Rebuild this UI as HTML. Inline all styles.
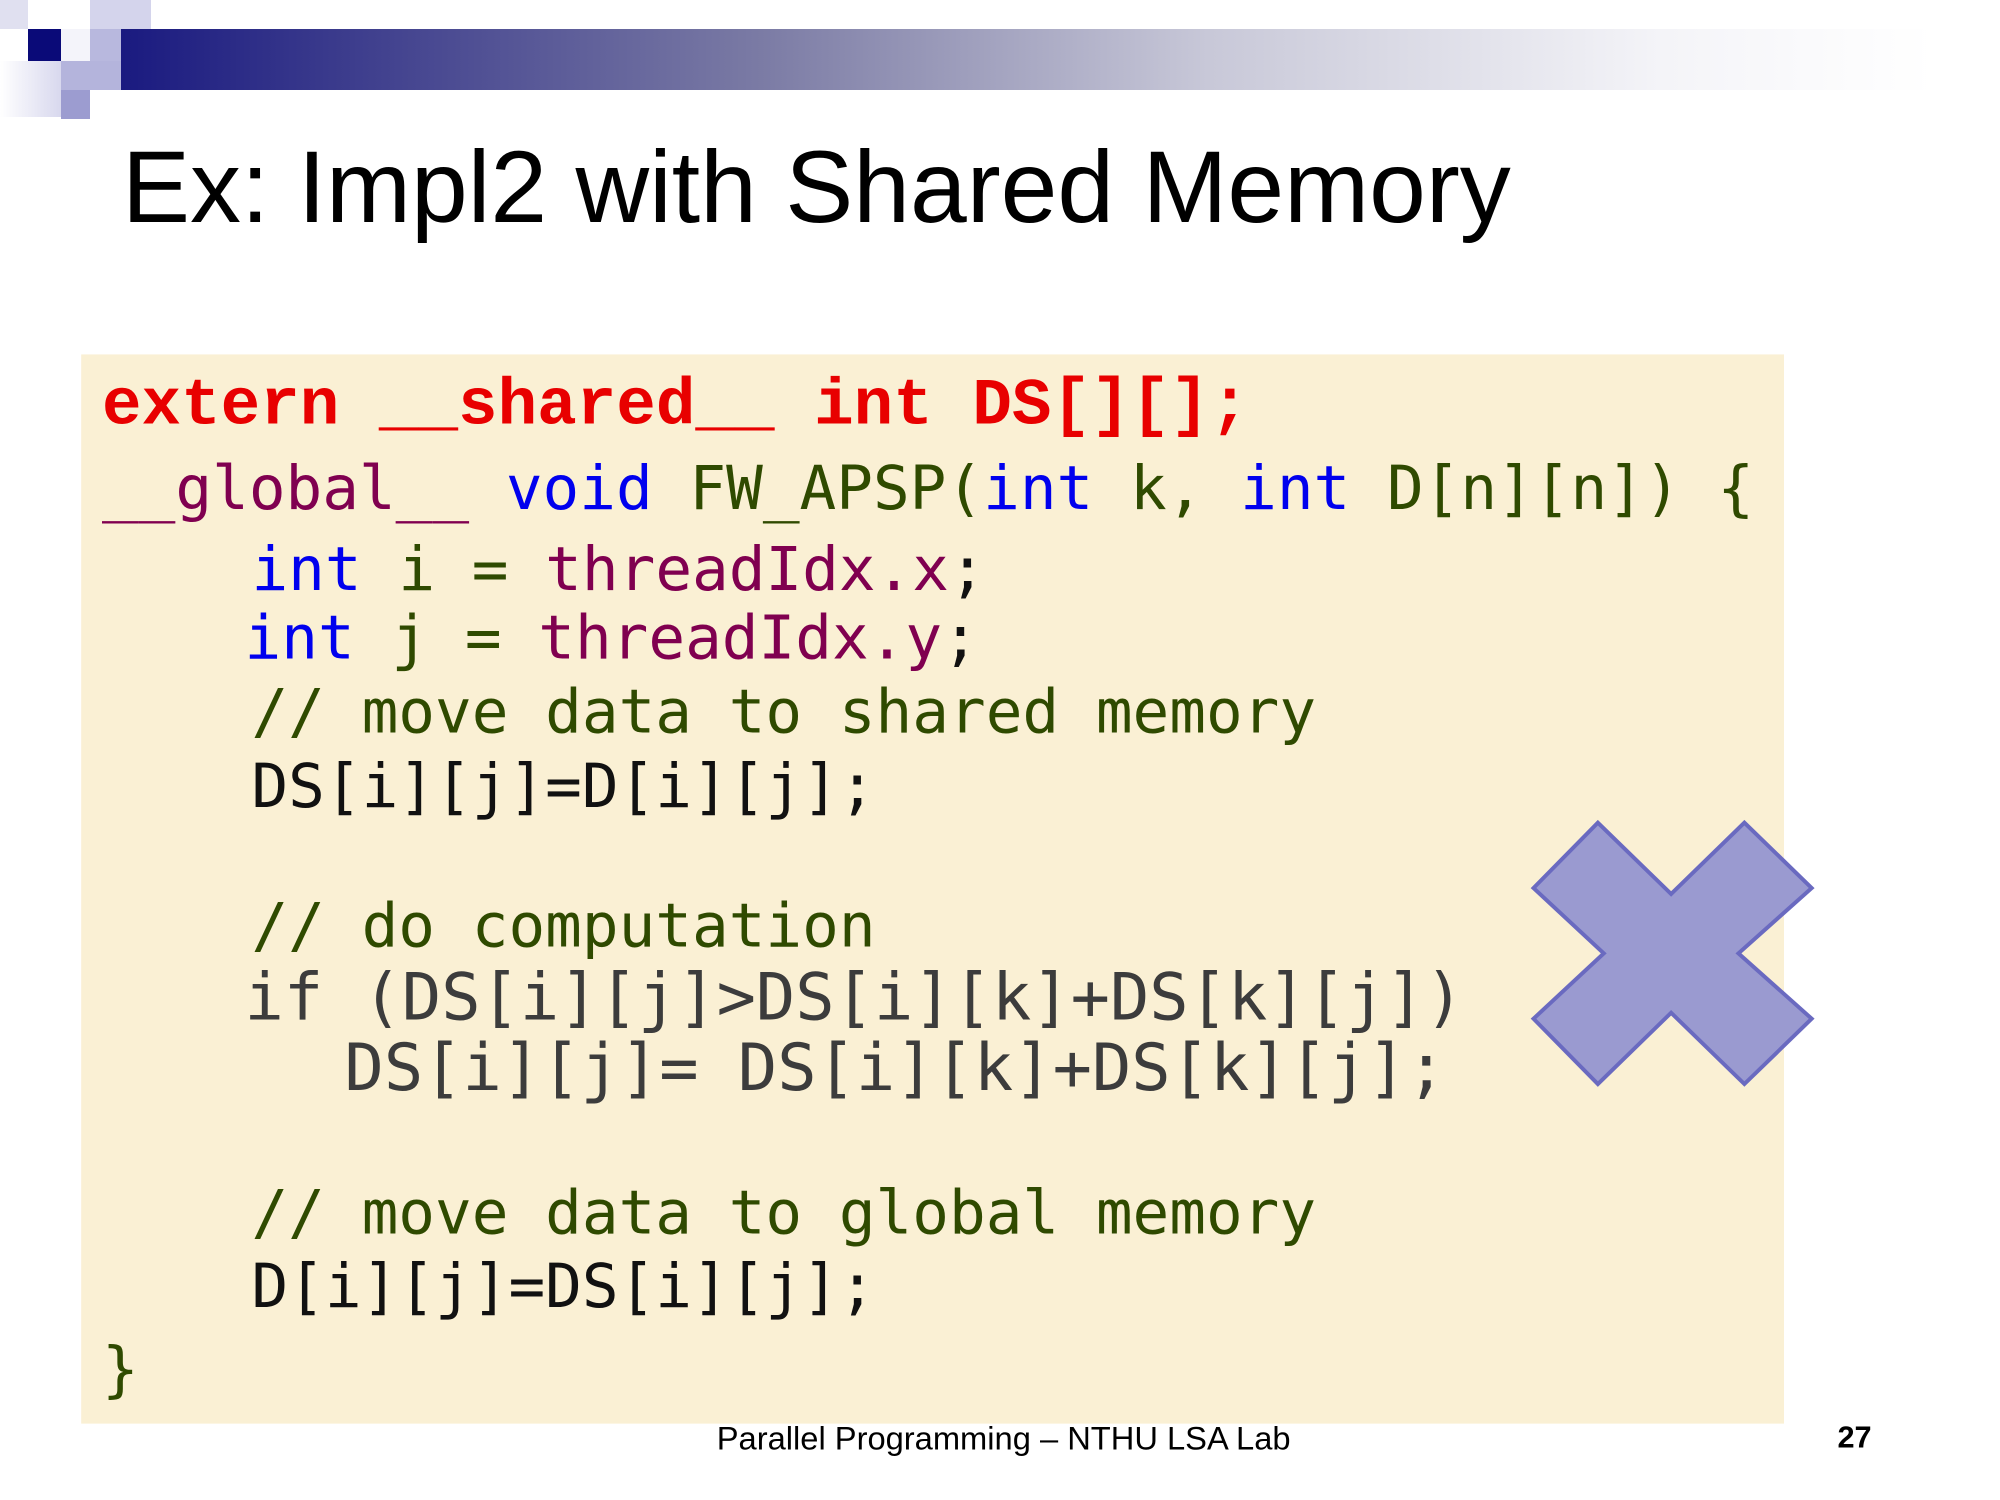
<!DOCTYPE html>
<html><head><meta charset="utf-8"><style>
body{margin:0;width:2000px;height:1500px;background:#fff;position:relative;overflow:hidden}
.a{position:absolute;white-space:pre;line-height:1}
.m{font-family:"DejaVu Sans Mono",monospace;font-size:61.6px}
.p{color:#800050}.b{color:#0000ee}.g{color:#2f4a00}.k{color:#111}
#w{position:absolute;left:0;top:0;width:2000px;height:1500px;transform:scale(0.99);transform-origin:0 0}
</style></head><body>
<div class="a" style="left:0;top:0;width:28px;height:29px;background:#e0e0f0"></div>
<div class="a" style="left:90px;top:0;width:61px;height:29px;background:#d4d4ec"></div>
<div class="a" style="left:28px;top:29px;width:33px;height:32px;background:#0a0a78"></div>
<div class="a" style="left:61px;top:29px;width:29px;height:32px;background:#f4f4fa"></div>
<div class="a" style="left:90px;top:29px;width:31px;height:32px;background:#b8b8de"></div>
<div class="a" style="left:0;top:61px;width:61px;height:56px;background:linear-gradient(90deg,#fff,#d8d8ee)"></div>
<div class="a" style="left:61px;top:61px;width:60px;height:29px;background:#b4b4dc"></div>
<div class="a" style="left:61px;top:90px;width:29px;height:29px;background:#9c9cd0"></div>
<div class="a" style="left:121px;top:29px;width:1812px;height:61px;background:linear-gradient(90deg,#1a1a80 0%,#7a7aa4 35%,#c8c8d8 60%,#f4f4f8 85%,#fff 100%)"></div>
<div class="a" style="left:122px;top:136px;font-family:'Liberation Sans',sans-serif;font-size:102px;color:#000">Ex: Impl2 with Shared Memory</div>
<div id="w">
<div class="a" style="left:82px;top:358px;width:1720px;height:1080px;background:#faf0d4"></div>
<div class="a" style="left:103px;top:378px;font-family:'Liberation Mono',monospace;font-weight:bold;font-size:66.6px;color:#e80000">extern __shared__ int DS[][];</div>
<div class="a m" style="left:103px;top:463px"><span class="p">__global__</span> <span class="b">void</span> <span class="g">FW_APSP(</span><span class="b">int</span> <span class="g">k,</span> <span class="b">int</span> <span class="g">D[n][n]) {</span></div>
<div class="a m" style="left:254px;top:545px"><span class="b">int</span> <span class="g">i =</span> <span class="p">threadIdx.x</span><span class="k">;</span></div>
<div class="a m" style="left:247px;top:614px"><span class="b">int</span> <span class="g">j =</span> <span class="p">threadIdx.y</span><span class="k">;</span></div>
<div class="a m g" style="left:254px;top:689px">// move data to shared memory</div>
<div class="a m k" style="left:254px;top:764px">DS[i][j]=D[i][j];</div>
<div class="a m g" style="left:254px;top:905px">// do computation</div>
<div class="a" style="left:247px;top:975px;font-family:'DejaVu Sans Mono',monospace;font-size:66px;color:#3c3c3c">if (DS[i][j]&gt;DS[i][k]+DS[k][j])</div>
<div class="a" style="left:348px;top:1046px;font-family:'DejaVu Sans Mono',monospace;font-size:66px;color:#3c3c3c">DS[i][j]= DS[i][k]+DS[k][j];</div>
<div class="a m g" style="left:254px;top:1195px">// move data to global memory</div>
<div class="a m k" style="left:254px;top:1269px">D[i][j]=DS[i][j];</div>
<div class="a m g" style="left:103px;top:1353px">}</div>
<svg class="a" style="left:0;top:0" width="2000" height="1500"><polygon points="1614,831 1688,903 1762,831 1830,897 1756,963 1830,1029 1762,1095 1688,1023 1614,1095 1549,1029 1620,963 1549,897" fill="#9a9ad0" stroke="#6a6ac0" stroke-width="4"/></svg>
<div class="a" style="left:724px;top:1436px;font-family:'Liberation Sans',sans-serif;font-size:33px;color:#000">Parallel Programming – NTHU LSA Lab</div>
<div class="a" style="left:1856px;top:1436px;font-family:'Liberation Sans',sans-serif;font-weight:bold;font-size:31px;color:#000">27</div>
</div>
</body></html>
